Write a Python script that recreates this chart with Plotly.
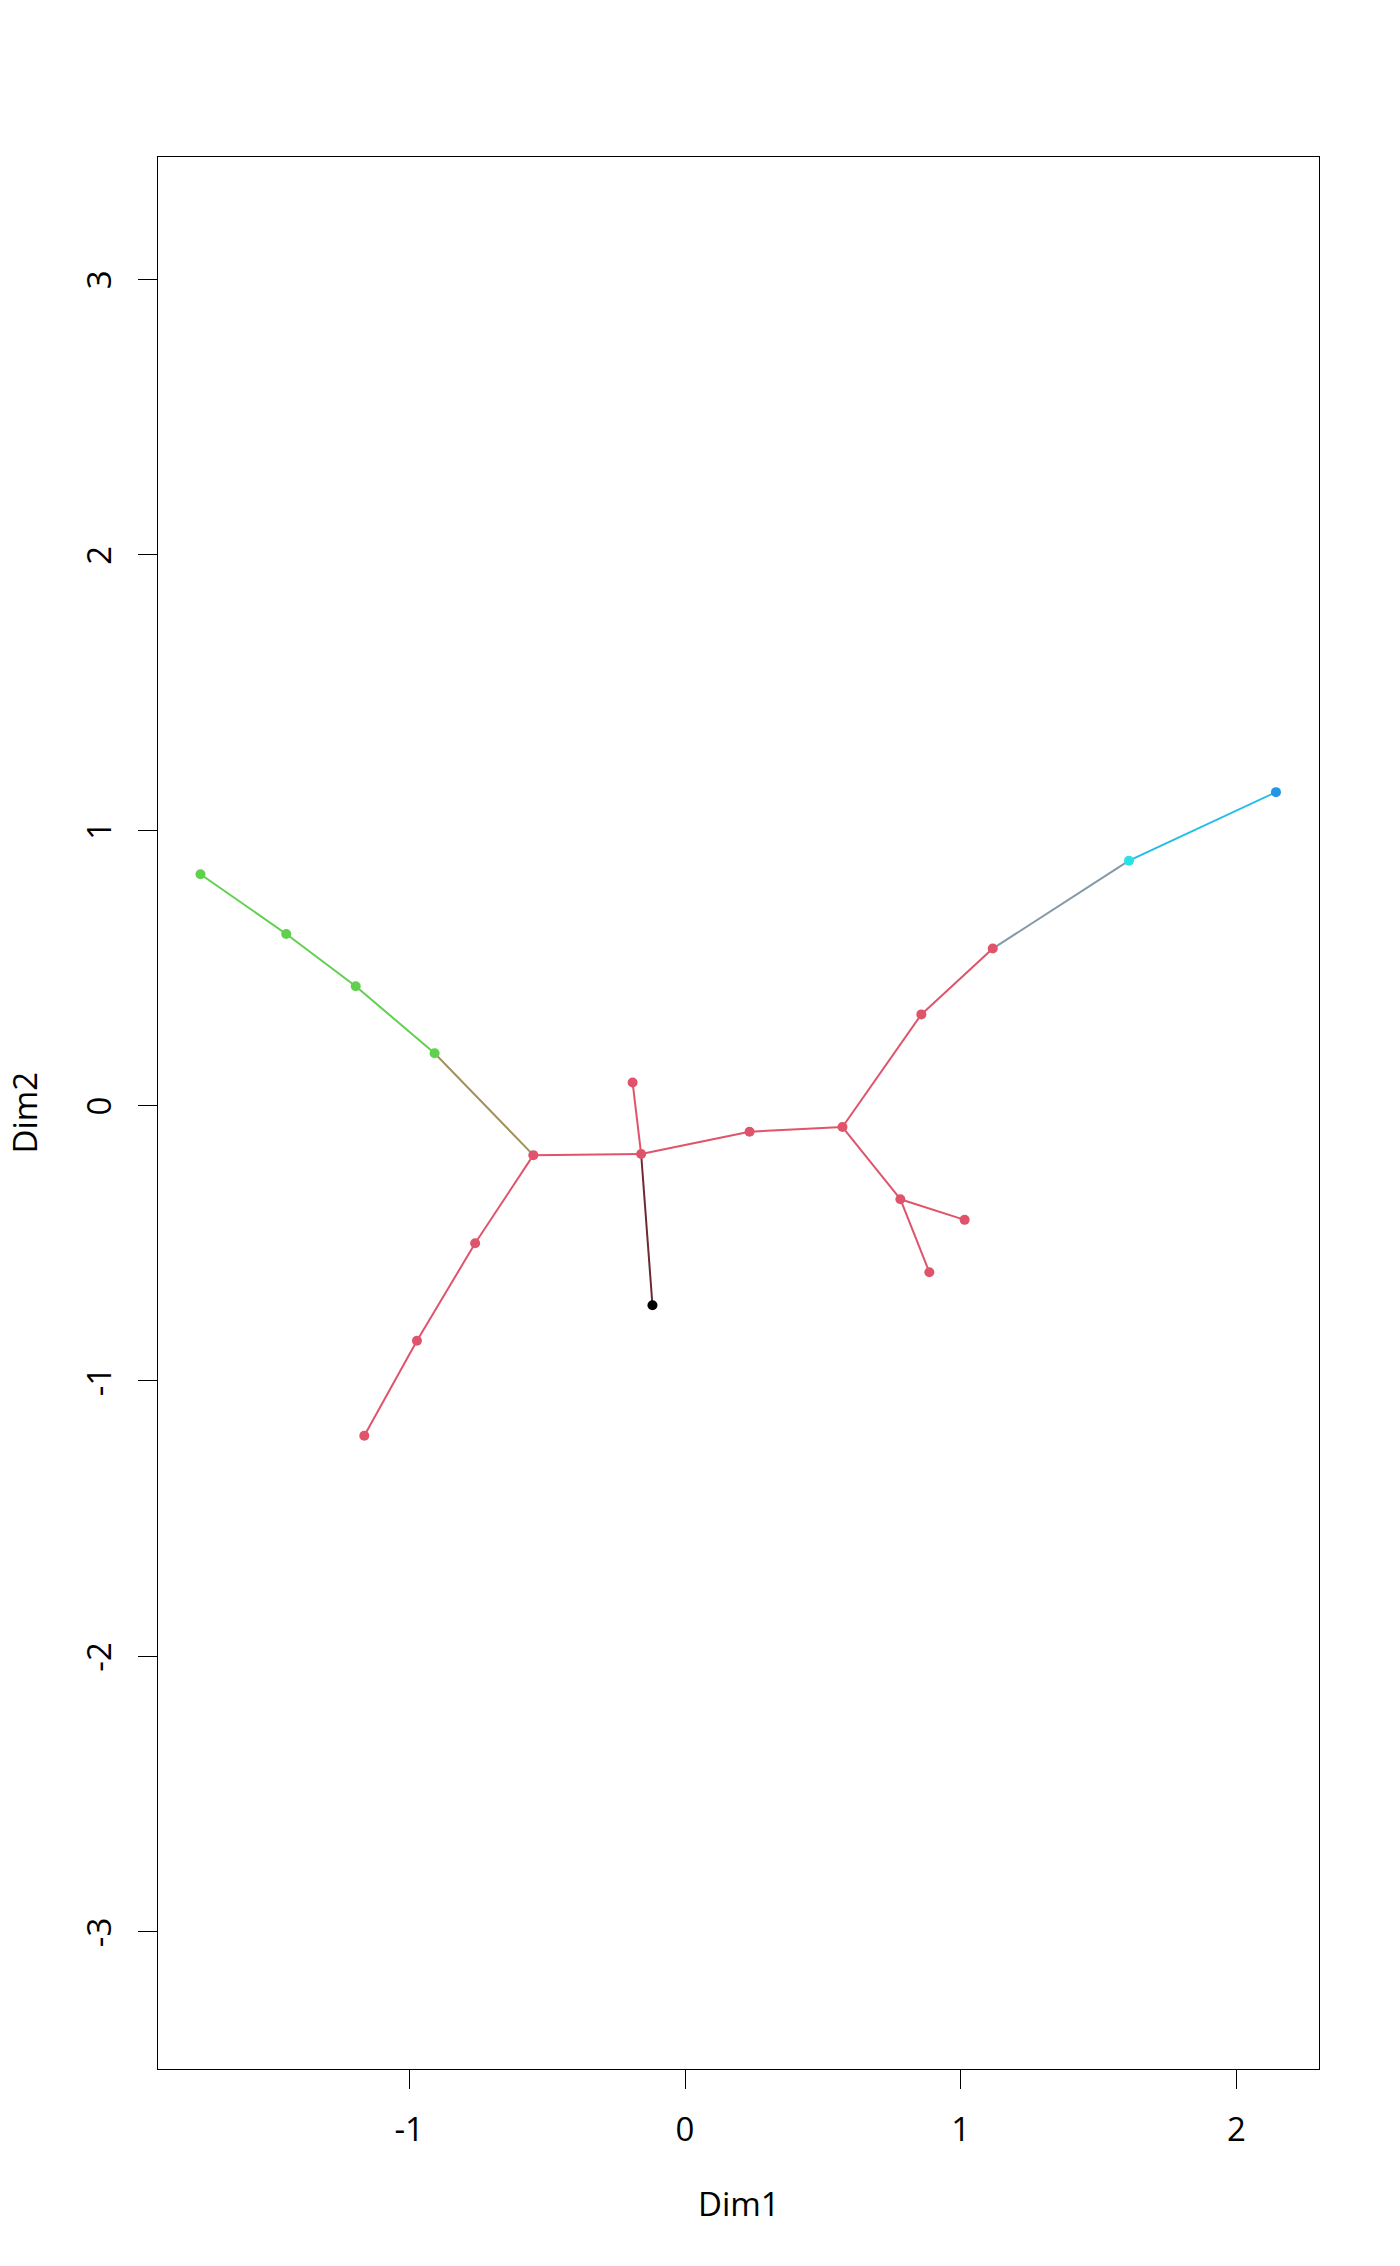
import plotly.graph_objects as go

# Node coordinates (Dim1, Dim2) and colours
node_names = ["G1", "G2", "G3", "G4", "A", "R1", "R2", "R3", "B", "T", "K0",
              "C", "D", "E", "F", "G", "H", "I", "J", "K"]
node_x = [-1.757, -1.446, -1.194, -0.908, -0.550, -0.761, -0.972, -1.163, -0.159, -0.190, -0.118,
          0.234, 0.571, 0.857, 0.781, 1.014, 0.886, 1.116, 1.610, 2.143]
node_y = [0.840, 0.623, 0.433, 0.190, -0.180, -0.500, -0.854, -1.199, -0.176, 0.084, -0.725,
          -0.095, -0.078, 0.331, -0.340, -0.415, -0.605, 0.570, 0.889, 1.138]
node_color = ["#61D04F", "#61D04F", "#61D04F", "#61D04F", "#DF536B", "#DF536B", "#DF536B", "#DF536B",
              "#DF536B", "#DF536B", "#000000", "#DF536B", "#DF536B", "#DF536B", "#DF536B", "#DF536B",
              "#DF536B", "#DF536B", "#28E2E5", "#2297E6"]

# Edges (tree) as index pairs
edge_from = [0, 1, 2, 3, 4, 5, 6, 4, 8, 8, 8, 11, 12, 13, 12, 14, 14, 17, 18]
edge_to = [1, 2, 3, 4, 5, 6, 7, 8, 9, 10, 11, 12, 13, 17, 14, 15, 16, 18, 19]

x_ticks = [-1, 0, 1, 2]
y_ticks = [-3, -2, -1, 0, 1, 2, 3]


def mix(c1, c2):
    a = [int(c1[i:i + 2], 16) for i in (1, 3, 5)]
    b = [int(c2[i:i + 2], 16) for i in (1, 3, 5)]
    return "#" + "".join(f"{(p + q) // 2:02X}" for p, q in zip(a, b))


fig = go.Figure()
for f, t in zip(edge_from, edge_to):
    fig.add_trace(go.Scatter(
        x=[node_x[f], node_x[t]], y=[node_y[f], node_y[t]], mode="lines",
        line=dict(color=mix(node_color[f], node_color[t]), width=2),
        showlegend=False, hoverinfo="skip"))

fig.add_trace(go.Scatter(
    x=node_x, y=node_y, mode="markers", text=node_names,
    marker=dict(color=node_color, size=10, line=dict(width=0)),
    showlegend=False))

FONT = dict(family="Open Sans", size=33, color="black")

axis_common = dict(
    showgrid=False, zeroline=False, showline=True, mirror=True,
    linecolor="black", linewidth=1.3, ticks="outside", ticklen=19,
    tickwidth=1.3, tickcolor="black", tickfont=FONT,
)

fig.update_layout(
    width=1392, height=2258,
    margin=dict(l=149.5, r=81, t=148.5, b=197),
    plot_bgcolor="white", paper_bgcolor="white",
    xaxis=dict(range=[-1.911, 2.299], tickvals=x_ticks, ticktext=[str(v) for v in x_ticks],
               ticklabelstandoff=12, **axis_common),
    yaxis=dict(range=[-3.498, 3.444], tickvals=y_ticks,
               ticktext=[str(v) + "\u2004" for v in y_ticks], tickangle=-90,
               ticklabelstandoff=14, **axis_common),
    annotations=[
        dict(text="Dim1", xref="paper", yref="paper", x=0.5, y=0, yshift=-134,
             xanchor="center", yanchor="middle", showarrow=False, font=FONT),
        dict(text="Dim2", xref="paper", yref="paper", x=0, y=0.5, xshift=-134.5,
             xanchor="center", yanchor="middle", showarrow=False, textangle=-90,
             borderpad=0, font=FONT),
    ],
)

fig.write_html("out.html")
